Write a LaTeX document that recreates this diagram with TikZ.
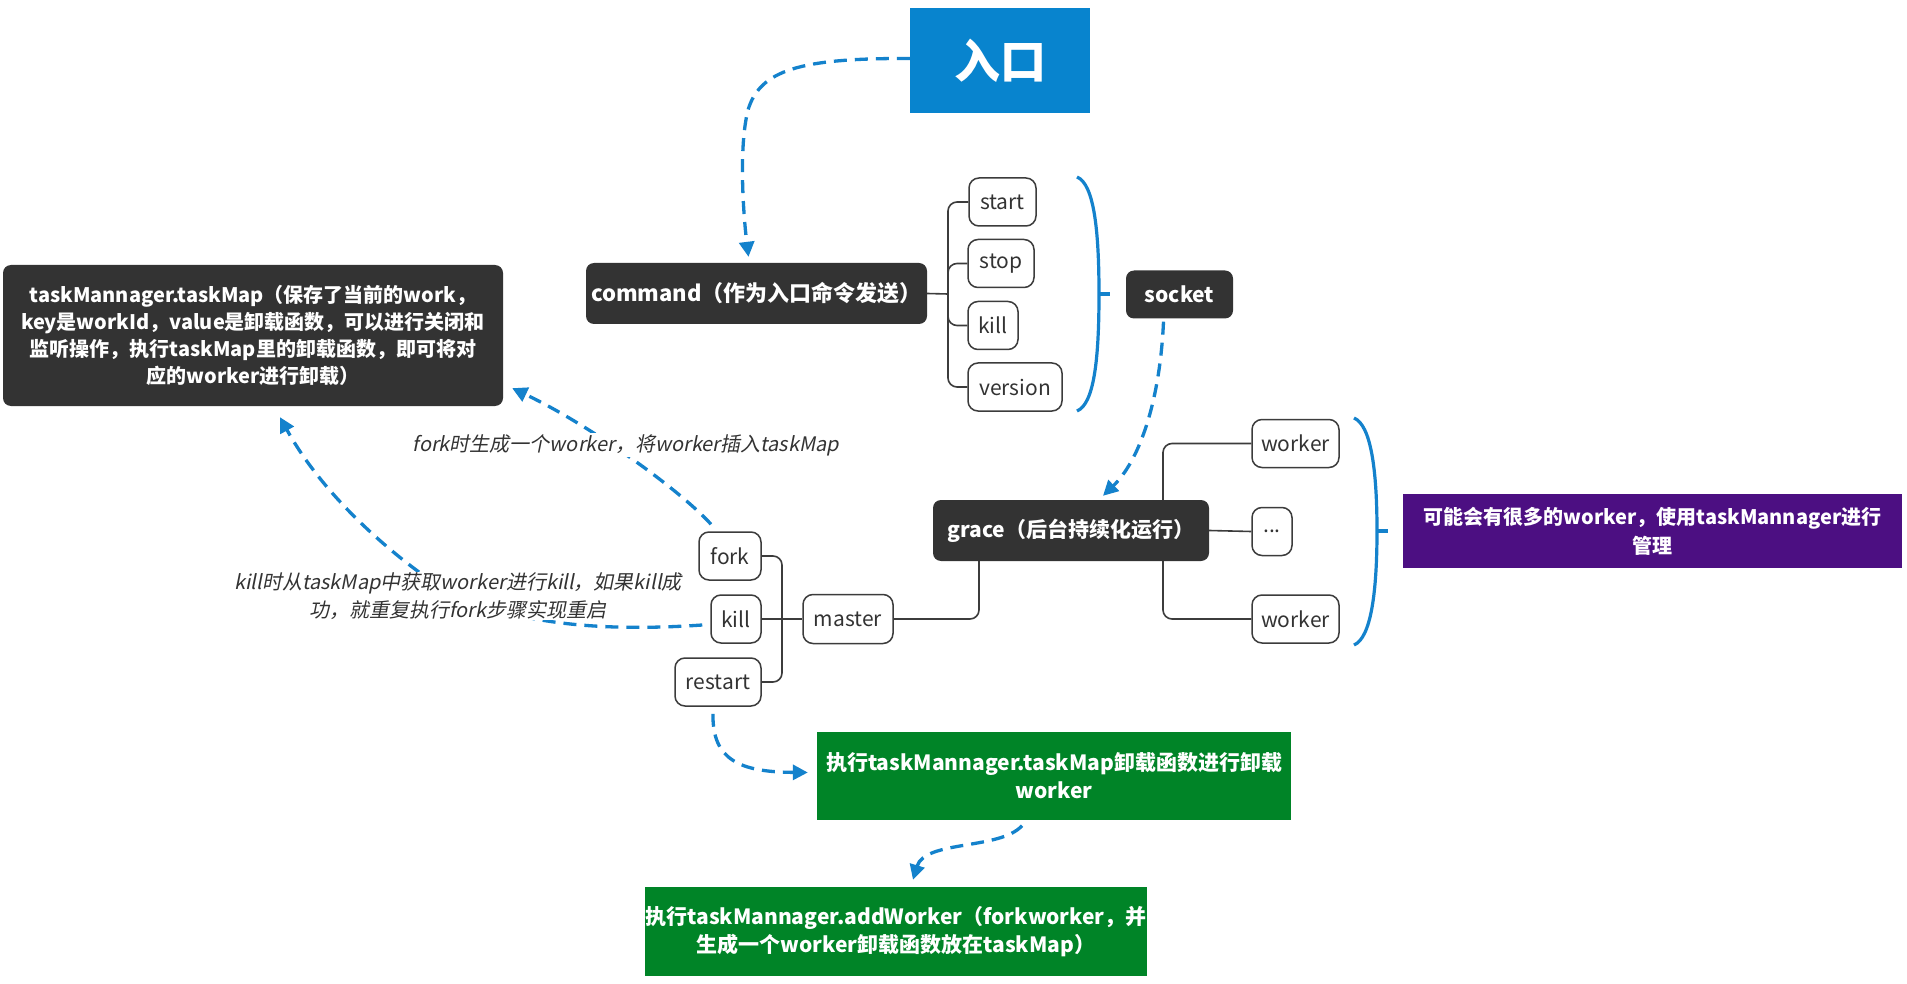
\documentclass[tikz,border=0pt]{standalone}
\usepackage{fontspec}
\setmainfont{Noto Sans CJK SC}
\newfontfamily\slfont{Noto Sans CJK SC}[FakeSlant=0.2]
\usetikzlibrary{arrows.meta,calc}
\pgfdeclarelayer{bg}
\pgfsetlayers{bg,main}
\definecolor{entryblue}{RGB}{8,132,206}
\definecolor{darkfill}{RGB}{51,51,51}
\definecolor{purp}{RGB}{76,15,130}
\definecolor{grn}{RGB}{0,132,39}
\definecolor{linkblue}{RGB}{20,130,204}
\definecolor{treeline}{RGB}{60,60,60}
\tikzset{
  darkbox/.style={fill=darkfill, rounded corners=8pt, text=white, font=\bfseries\fontsize{21}{27}\selectfont, align=center, inner sep=0pt},
  whitebox/.style={draw=treeline, line width=1.5pt, fill=white, rounded corners=10pt, text=darkfill, font=\fontsize{21}{26}\selectfont, inner sep=0pt, minimum height=48pt},
  flowbox/.style={text=white, font=\bfseries\fontsize{21}{28}\selectfont, align=center, inner sep=0pt},
  link/.style={draw=linkblue, line width=3.3pt, dash pattern=on 13pt off 8pt, -{Triangle[length=15pt,width=15pt]}},
  tree/.style={draw=treeline, line width=1.6pt, rounded corners=9pt},
  bracket/.style={draw=linkblue, line width=3.2pt},
  lbl/.style={fill=white, text=darkfill, font=\slfont\fontsize{20}{28}\selectfont, align=center, inner sep=1pt},
}
\begin{document}
\begin{tikzpicture}[x=1pt,y=-1pt]
\useasboundingbox (0,0) rectangle (1907,984);

% nodes
\node[fill=entryblue, text=white, font=\bfseries\fontsize{46}{50}\selectfont, minimum width=180pt, minimum height=105pt, inner sep=0pt] (entry) at (1000,60.5) {入口};
\node[darkbox, minimum width=341pt, minimum height=61pt, font=\bfseries\fontsize{22}{27}\selectfont] (command) at (756.5,293.5) {command（作为入口命令发送）};
\node[whitebox, minimum width=67pt] (start) at (1002.5,202) {start};
\node[whitebox, minimum width=66pt] (stop) at (1001,263.5) {stop};
\node[whitebox, minimum width=50pt] (killa) at (993,325.5) {kill};
\node[whitebox, minimum width=94pt] (version) at (1015,387) {version};
\node[darkbox, minimum width=107pt, minimum height=48pt] (socket) at (1179.5,294.5) {socket};
\node[darkbox, minimum width=276pt, minimum height=61pt] (grace) at (1071,530.5) {grace（后台持续化运行）};
\node[whitebox, minimum width=87pt] (wa) at (1295.5,443.5) {worker};
\node[whitebox, minimum width=40pt] (dots) at (1272,531.5) {...};
\node[whitebox, minimum width=87pt] (wb) at (1295.5,619) {worker};
\node[fill=purp, flowbox, font=\bfseries\fontsize{20}{29}\selectfont, minimum width=499pt, minimum height=74pt] (note) at (1652.5,531) {可能会有很多的worker，使用taskMannager进行\\管理};
\node[darkbox, minimum width=500pt, minimum height=141pt, font=\bfseries\fontsize{20}{27}\selectfont] (tm) at (253,335.5) {taskMannager.taskMap（保存了当前的work，\\key是workId，value是卸载函数，可以进行关闭和\\监听操作，执行taskMap里的卸载函数，即可将对\\应的worker进行卸载）};
\node[whitebox, minimum width=62pt] (fork) at (730,556) {fork};
\node[whitebox, minimum width=50pt] (killb) at (736,619) {kill};
\node[whitebox, minimum width=86pt] (restart) at (718,682) {restart};
\node[whitebox, minimum width=90pt, minimum height=49pt] (master) at (848,619) {master};
\node[fill=grn, flowbox, minimum width=474pt, minimum height=88pt] (ga) at (1054,775.5) {执行taskMannager.taskMap卸载函数进行卸载\\worker};
\node[fill=grn, flowbox, minimum width=502pt, minimum height=89pt] (gb) at (896,931.5) {执行taskMannager.addWorker（forkworker，并\\生成一个worker卸载函数放在taskMap）};

% tree lines
\coordinate (ct) at (948,294);
\coordinate (gt) at (1163,531);
\coordinate (mt) at (782,619);
\begin{pgfonlayer}{bg}
\fill[white] (0,0) rectangle (1907,984);
\draw[tree] (command.east) -- (ct);
\draw[tree] (start.west) -| (ct);
\draw[tree] (stop.west) -| (ct);
\draw[tree] (killa.west) -| (ct);
\draw[tree] (version.west) -| (ct);
\draw[tree] (wa.west) -| (gt);
\draw[tree] (wb.west) -| (gt);
\draw[tree] (grace.east) -- (dots.west);
\draw[tree] ([xshift=-92pt]grace.south) |- (master.east);
\draw[tree] (fork.east) -| (mt);
\draw[tree] (restart.east) -| (mt);
\draw[tree] (killb.east) -- (master.west);
\end{pgfonlayer}

% brackets
\draw[bracket] (1077,177) .. controls (1094,184) and (1099,230) .. (1099,294) .. controls (1099,360) and (1094,404) .. (1077,411);
\draw[bracket] (1099,294) -- (1110,294);
\draw[bracket] (1354,418) .. controls (1371,425) and (1377,470) .. (1377,531) .. controls (1377,592) and (1371,638) .. (1354,645);
\draw[bracket] (1377,531) -- (1388,531);

% dashed links
\draw[link] ([yshift=2pt]entry.west) .. controls (800,58) and (760,70) .. (748,110) .. controls (738,150) and (744,220) .. ([xshift=-8pt,yshift=6pt]command.north);
\draw[link] ([xshift=-16pt,yshift=-3pt]socket.south) .. controls (1160,400) and (1140,460) .. ([xshift=32pt,yshift=4pt]grace.north);
\draw[link] ([xshift=-19pt,yshift=7pt]fork.north) .. controls (680,490) and (590,425) .. ([xshift=9pt,yshift=18pt]tm.south east);
\draw[link] ([xshift=-8pt,yshift=-6pt]killb.west) .. controls (600,632) and (500,625) .. (430,580) .. controls (380,545) and (320,490) .. ([xshift=27pt,yshift=-11pt]tm.south);
\draw[link] ([xshift=-5pt,yshift=-7pt]restart.south) .. controls (712,760) and (740,772) .. ([xshift=-9pt,yshift=3pt]ga.west);
\draw[link] ([xshift=-32pt,yshift=-6pt]ga.south) .. controls (1000,850) and (925,840) .. ([xshift=17pt,yshift=7pt]gb.north);

% labels
\node[lbl] (lfork) at (626,445) {fork时生成一个worker，将worker插入taskMap};
\node[lbl] (lkill) at (458,596) {kill时从taskMap中获取worker进行kill，如果kill成\\功，就重复执行fork步骤实现重启};
\end{tikzpicture}
\end{document}
